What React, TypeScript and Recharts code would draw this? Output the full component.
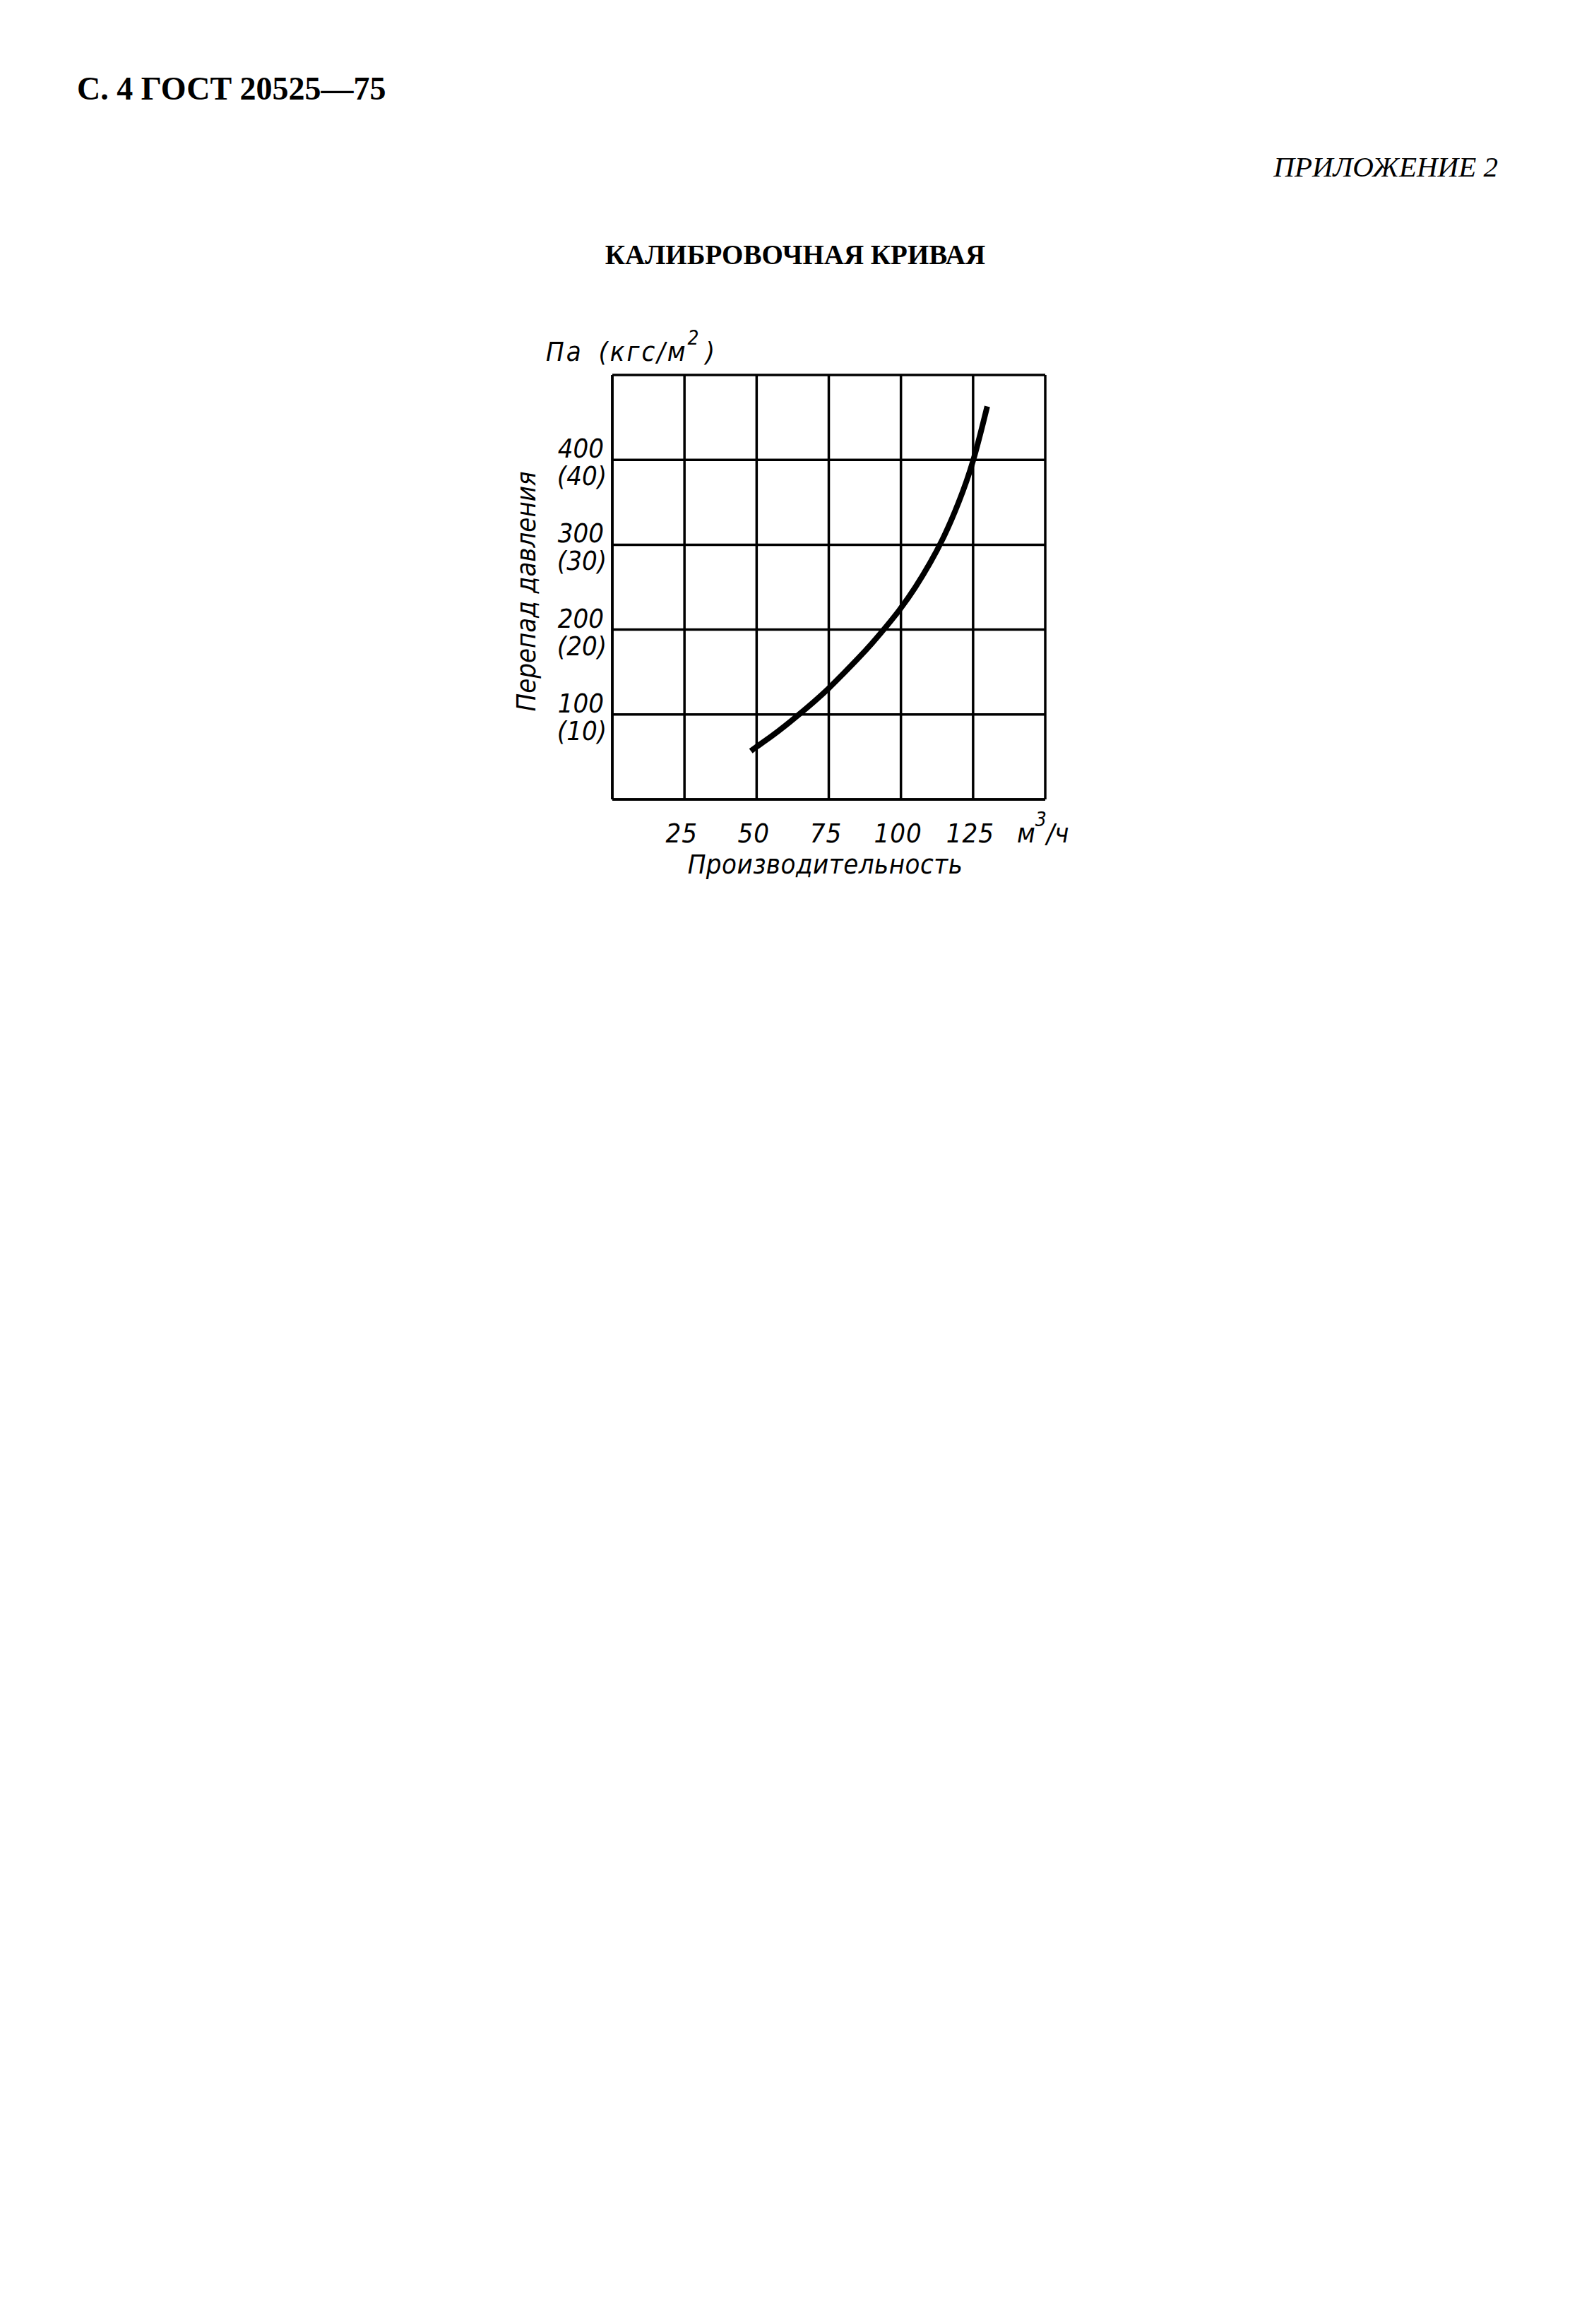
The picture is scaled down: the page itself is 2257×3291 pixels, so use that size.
import React from 'react';
import { CartesianGrid, Line, LineChart, XAxis, YAxis } from 'recharts';

// flow, m3/h  ->  pressure drop, Pa (kgf/m2 = Pa / 10)
const flow = [48, 50, 55, 60, 65, 70, 75, 80, 85, 90, 95, 100, 105, 110, 115, 120, 125, 129.9];
const pressure = [57, 62, 74, 87, 101, 115.5, 131, 148, 165.5, 184, 204, 225.5, 250, 278, 310.5, 350, 399, 463];

const xTicks = [0, 25, 50, 75, 100, 125, 150];
const yTicks = [0, 100, 200, 300, 400, 500];

const data = flow.map((q, i) => ({ q, p: pressure[i] }));

const PAGE_W = 2257;
const PAGE_H = 3291;
const CHART_H = 1300;
const PLOT = { left: 867, right: 1480, top: 531, bottom: 1132 };
const Y_AXIS_W = 120;
const X_AXIS_H = 60;

const INK = '#000';
const gostFont = '"DejaVu Sans Condensed", "DejaVu Sans", sans-serif';
const serifFont = '"Liberation Serif", "Times New Roman", serif';
const FS = 38;

if (typeof document !== 'undefined') document.body.style.margin = '0';

function XTick({ x, payload }: any) {
  const v = payload.value;
  if (v === 0) return null;
  const y = PLOT.bottom + 48;
  if (v === 150) {
    return (
      <text x={x - 40} y={y} fontFamily={gostFont} fontStyle="italic" fontSize={FS} fill={INK} dominantBaseline="central">
        <tspan>м</tspan>
        <tspan dy={-20} fontSize={28}>3</tspan>
        <tspan dy={20}>/ч</tspan>
      </text>
    );
  }
  return (
    <text x={x - 4} y={y} textAnchor="middle" fontFamily={gostFont} fontStyle="italic" fontSize={FS} fill={INK} dominantBaseline="central" letterSpacing={1}>
      {v}
    </text>
  );
}

function YTick({ y, payload }: any) {
  const v = payload.value;
  if (v === 0 || v === 500) return null;
  return (
    <g fontFamily={gostFont} fontStyle="italic" fontSize={FS} fill={INK}>
      <text x={PLOT.left - 12} y={y - 16} textAnchor="end" dominantBaseline="central">{v}</text>
      <text x={PLOT.left - 8} y={y + 23} textAnchor="end" dominantBaseline="central">({v / 10})</text>
    </g>
  );
}

export default function App() {
  return (
    <div style={{ position: 'relative', width: PAGE_W, height: PAGE_H, background: '#fff', overflow: 'hidden' }}>
      <div style={{ position: 'absolute', left: 109, top: 100, fontFamily: serifFont, fontWeight: 'bold', fontSize: 46, lineHeight: '52px', whiteSpace: 'nowrap' }}>
        С. 4 ГОСТ 20525—75
      </div>
      <div style={{ position: 'absolute', right: PAGE_W - 2121, top: 213, fontFamily: serifFont, fontStyle: 'italic', fontSize: 41, lineHeight: '46px', whiteSpace: 'nowrap' }}>
        ПРИЛОЖЕНИЕ 2
      </div>
      <div style={{ position: 'absolute', left: 0, width: 2252, top: 338, textAlign: 'center', fontFamily: serifFont, fontWeight: 'bold', fontSize: 39, lineHeight: '46px', whiteSpace: 'nowrap' }}>
        КАЛИБРОВОЧНАЯ КРИВАЯ
      </div>
      <div style={{ position: 'absolute', left: 0, top: 0 }}>
        <LineChart
          width={PAGE_W}
          height={CHART_H}
          data={data}
          margin={{
            top: PLOT.top,
            left: PLOT.left - Y_AXIS_W,
            right: PAGE_W - PLOT.right,
            bottom: CHART_H - PLOT.bottom - X_AXIS_H,
          }}
        >
          <CartesianGrid stroke={INK} strokeWidth={3.5} strokeOpacity={1} />
          <XAxis
            dataKey="q"
            type="number"
            domain={[0, 150]}
            ticks={xTicks}
            interval={0}
            height={X_AXIS_H}
            tickLine={false}
            axisLine={{ stroke: INK, strokeWidth: 3.5 }}
            tick={<XTick />}
            label={{
              content: () => (
                <text x={(PLOT.left + PLOT.right) / 2 - 5} y={PLOT.bottom + 92} textAnchor="middle" dominantBaseline="central" fontFamily={gostFont} fontStyle="italic" fontSize={FS} fill={INK} letterSpacing={0.5}>
                  Производительность
                </text>
              ),
            }}
          />
          <YAxis
            type="number"
            domain={[0, 500]}
            ticks={yTicks}
            interval={0}
            width={Y_AXIS_W}
            tickLine={false}
            axisLine={{ stroke: INK, strokeWidth: 3.5 }}
            tick={<YTick />}
            label={{
              content: () => (
                <g fontFamily={gostFont} fontStyle="italic" fontSize={FS} fill={INK}>
                  <text transform={`translate(${PLOT.left - 122}, ${(PLOT.top + PLOT.bottom) / 2 + 6}) rotate(-90)`} textAnchor="middle" dominantBaseline="central">
                    Перепад давления
                  </text>
                  <text x={PLOT.left - 94} y={PLOT.top - 33} dominantBaseline="central" letterSpacing={3} wordSpacing={8}>
                    <tspan>Па (кгс/м</tspan>
                    <tspan dy={-20} fontSize={28}>2</tspan>
                    <tspan dy={20} dx={6}>)</tspan>
                  </text>
                </g>
              ),
            }}
          />
          <Line
            type="natural"
            dataKey="p"
            stroke={INK}
            strokeWidth={8}
            dot={false}
            activeDot={false}
            isAnimationActive={false}
          />
        </LineChart>
      </div>
    </div>
  );
}
